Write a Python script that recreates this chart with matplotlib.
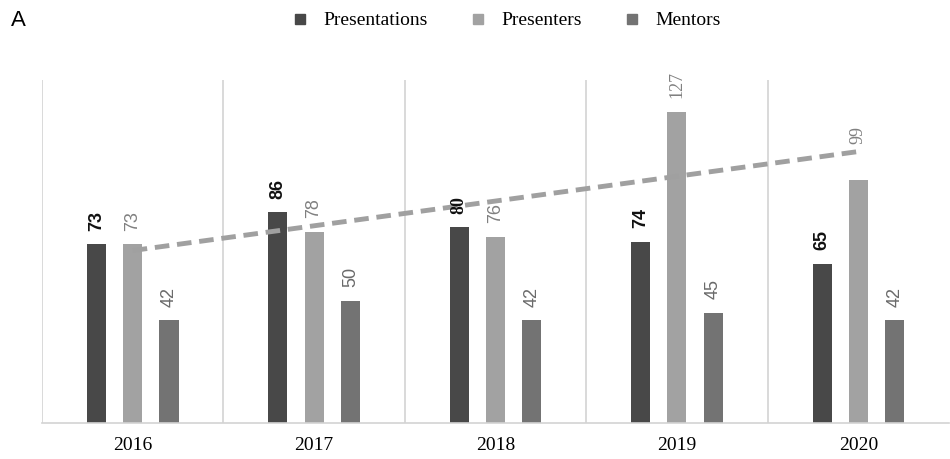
import numpy as np
import matplotlib.pyplot as plt
from matplotlib.lines import Line2D

# Данные
years = ['2016', '2017', '2018', '2019', '2020']
presentations = [73, 86, 80, 74, 65]
presenters = [73, 78, 76, 127, 99]
mentors = [42, 50, 42, 45, 42]

c_pres = '#484848'
c_presenters = '#a2a2a2'
c_mentors = '#737373'

fig = plt.figure(figsize=(9.5, 4.59), dpi=100)
ax = fig.add_axes([0.0442, 0.0784, 0.9548, 0.7473])

x = np.arange(len(years))
w = 0.105
d = 0.2

ax.bar(x - d, presentations, w, color=c_pres, zorder=2)
ax.bar(x, presenters, w, color=c_presenters, zorder=2)
ax.bar(x + d, mentors, w, color=c_mentors, zorder=2)

# Линейный тренд для Presenters
k, b = np.polyfit(x, presenters, 1)
ax.plot(x, k * x + b, color='#a0a0a0', lw=3.5, ls=(0, (3, 1.6)), zorder=3)

# Подписи значений
sans = ['Liberation Sans', 'DejaVu Sans']
serif = ['Liberation Serif', 'DejaVu Serif']
fs = 13
for i in range(len(years)):
    fam = serif if i == 2 else sans
    ax.text(x[i] - d, presentations[i] + 5.5, str(presentations[i]), rotation=90,
            ha='center', va='bottom', fontsize=fs, color='#111111',
            fontweight='bold', family=fam)
    fam = serif if i in (3, 4) else sans
    off = 15 if i == 4 else 5.5
    ax.text(x[i], presenters[i] + off, str(presenters[i]), rotation=90,
            ha='center', va='bottom', fontsize=fs, color='#808080', family=fam)
    ax.text(x[i] + d, mentors[i] + 5.5, str(mentors[i]), rotation=90,
            ha='center', va='bottom', fontsize=fs, color='#6a6a6a', family=sans)

ax.set_xlim(-0.5, len(years) - 0.5)
ax.set_ylim(0, 140)
for xb in np.arange(-0.5, len(years) - 0.5, 1.0):
    ax.axvline(xb, color='#d3d3d3', lw=1.2, zorder=1)
for s in ['top', 'right', 'left']:
    ax.spines[s].set_visible(False)
ax.spines['bottom'].set_color('#d3d3d3')
ax.spines['bottom'].set_linewidth(1.2)
ax.set_yticks([])
ax.set_xticks(x)
ax.set_xticklabels(years, fontsize=14, family=serif)
ax.tick_params(axis='x', length=0, pad=10)

handles = [Line2D([], [], marker='s', ls='', color=c, markersize=7)
           for c in (c_pres, c_presenters, c_mentors)]
fig.legend(handles, ['Presentations', 'Presenters', 'Mentors'], loc='center',
           bbox_to_anchor=(0.527, 0.955), ncol=3, frameon=False,
           prop={'family': serif, 'size': 14}, handletextpad=0.2,
           columnspacing=1.6)

fig.text(0.012, 0.955, 'A', fontsize=16, va='center', ha='left', family=sans)

fig.savefig('out.png', dpi=100)
